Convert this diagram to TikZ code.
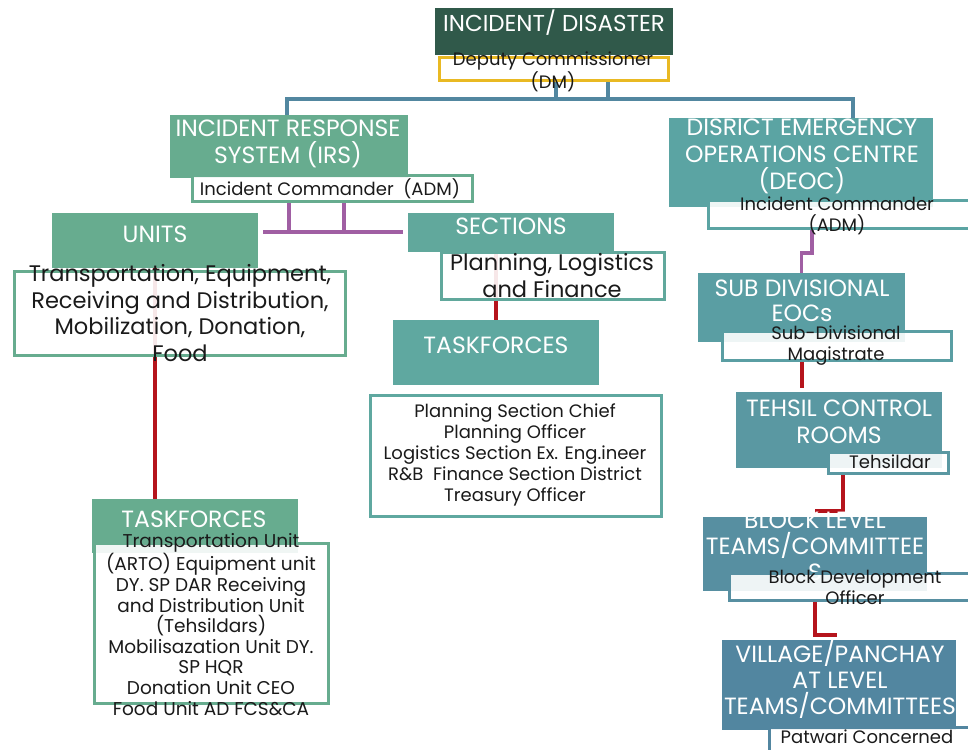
\documentclass[tikz,border=0pt]{standalone}
\usepackage{fontspec}
\setmainfont{Poppins}
\usetikzlibrary{calc}
\definecolor{cdark}{HTML}{30594A}
\definecolor{cgreen}{HTML}{67AC8F}
\definecolor{csect}{HTML}{61A89C}
\definecolor{ctfs}{HTML}{5FA8A0}
\definecolor{cdeoc}{HTML}{5BA4A3}
\definecolor{csub}{HTML}{5A9EA3}
\definecolor{cteh}{HTML}{5A98A2}
\definecolor{cblk}{HTML}{578FA1}
\definecolor{cvil}{HTML}{5286A0}
\definecolor{cblue}{HTML}{5287A0}
\definecolor{cpurple}{HTML}{A05FA3}
\definecolor{cred}{HTML}{B5141C}
\definecolor{cyellow}{HTML}{E9B923}
\definecolor{ctext}{HTML}{1A1A1A}
\begin{document}
\begin{tikzpicture}[x=1pt,y=-1pt,every node/.style={inner sep=0pt,outer sep=0pt}]
\tikzset{
 hdr/.style={rectangle,fill=#1,draw=none},
 wbox/.style={rectangle,draw=#1,line width=3pt,fill=white,fill opacity=0.9,text opacity=1},
 htxt/.style={text=white,font=\fontsize{23.5}{26}\selectfont,align=center},
 btxt/.style={text=ctext,font=\fontsize{18}{21}\selectfont,align=center},
 ltxt/.style={text=ctext,font=\fontsize{22.5}{26.7}\selectfont,align=center},
 blueln/.style={draw=cblue,line width=3.5pt},
 purpleln/.style={draw=cpurple,line width=3.5pt},
 redln/.style={draw=cred,line width=3.5pt},
}
\useasboundingbox (0,0) rectangle (968,749);
\fill[white] (0,0) rectangle (968,749);
% ---------- box shapes (placed first so connectors can use them) ----------
\path
 (554,31.5) node[hdr=cdark,minimum width=238,minimum height=47] (inc) {}
 (553.5,69.5) node[minimum width=229,minimum height=23] (dm) {}
 (289,146.5) node[minimum width=238,minimum height=63] (irs) {}
 (332,188) node[minimum width=280,minimum height=26] (irsic) {}
 (155,240.5) node[minimum width=206,minimum height=55] (units) {}
 (179.5,313) node[minimum width=331,minimum height=84] (unitsbox) {}
 (511,232.5) node[minimum width=206,minimum height=39] (sect) {}
 (552.5,275.5) node[minimum width=223,minimum height=47] (sectbox) {}
 (496,352.5) node[minimum width=206,minimum height=65] (tfs) {}
 (515.5,455.5) node[minimum width=291,minimum height=121] (tfsbox) {}
 (195,526) node[minimum width=206,minimum height=54] (tfu) {}
 (211,623) node[minimum width=234,minimum height=160] (tfubox) {}
 (801,162.5) node[minimum width=264,minimum height=89] (deoc) {}
 (841.5,214) node[minimum width=267,minimum height=28] (deocic) {}
 (801.5,307.5) node[minimum width=207,minimum height=69] (sub) {}
 (836.5,345.5) node[minimum width=229,minimum height=29] (subm) {}
 (839,430) node[minimum width=206,minimum height=76] (teh) {}
 (888,462.5) node[minimum width=120,minimum height=21] (tehd) {}
 (815,554) node[minimum width=224,minimum height=74] (blk) {}
 (852,586.5) node[minimum width=246,minimum height=27] (bdo) {}
 (839,685) node[minimum width=234,minimum height=90] (vil) {}
 (872,741) node[minimum width=206,minimum height=28] (pat) {};
% ---------- connectors ----------
\draw[blueln] ($(irs.north)+(-2,0)$) -- ++(0,-16) -| ($(deoc.north)+(52,0)$);
\draw[blueln] ($(dm.south)+(2.5,0)$) -- ++(0,18);
\draw[blueln] ($(dm.south)+(54.5,0)$) -- ++(0,18);
\draw[purpleln] ($(units.east)+(5,-8.5)$) -- ($(sect.west)+(-5,-0.5)$);
\draw[purpleln] ($(irsic.south)+(-43,0)$) -- ++(0,31);
\draw[purpleln] ($(irsic.south)+(12,0)$) -- ++(0,31);
\draw[purpleln] ($(deocic.south)+(-29.5,0)$) -- ++(0,25) -| (sub.north);
\draw[redln] (units.south) -- (units.south |- tfu.north);
\draw[redln] (tfs.north |- sect.south) -- (tfs.north);
\draw[redln] ($(subm.south)+(-34.5,0)$) -- ++(0,28);
\draw[redln] ($(tehd.south)+(-45,0)$) |- ($(blk.north)+(0,-6)$);
\draw[redln] ($(bdo.south)+(-37,0)$) |- ($(vil.north)+(-2,-5)$);
% ---------- top ----------
\fill[cdark] (inc.north west) rectangle (inc.south east);
\node[htxt,font=\fontsize{23}{26}\selectfont] (inct) at (554,23) {INCIDENT/ DISASTER};
\draw[cyellow,line width=3pt,fill=white] (dm.north west) rectangle (dm.south east);
\node[btxt] (dmt) at (553,72) {Deputy Commissioner\\(DM)};
% ---------- IRS ----------
\fill[cgreen] (irs.north west) rectangle (irs.south east);
\node[htxt,font=\fontsize{23.5}{27}\selectfont] (irst) at (288,143.5) {INCIDENT RESPONSE\\SYSTEM (IRS)};
\draw[wbox=cgreen] (irsic.north west) rectangle (irsic.south east);
\node[btxt] (irsict) at (330,189) {Incident Commander~~(ADM)};
% ---------- units ----------
\fill[cgreen] (units.north west) rectangle (units.south east);
\node[htxt] (unitst) at (155,234) {UNITS};
\draw[wbox=cgreen] (unitsbox.north west) rectangle (unitsbox.south east);
\node[ltxt] (unitsboxt) at (180,313) {Transportation, Equipment,\\Receiving and Distribution,\\Mobilization, Donation,\\Food};
% ---------- sections ----------
\fill[csect] (sect.north west) rectangle (sect.south east);
\node[htxt] (sectt) at (511,226) {SECTIONS};
\draw[wbox=csect] (sectbox.north west) rectangle (sectbox.south east);
\node[ltxt] (sectboxt) at (552,275.5) {Planning, Logistics\\and Finance};
\fill[ctfs] (tfs.north west) rectangle (tfs.south east);
\node[htxt] (tfst) at (496,345) {TASKFORCES};
\draw[wbox=ctfs] (tfsbox.north west) rectangle (tfsbox.south east);
\node[btxt] (tfsboxt) at (515,455) {Planning Section Chief\\Planning Officer\\Logistics Section Ex. Eng.ineer\\R\&B~~Finance Section District\\Treasury Officer};
% ---------- unit taskforces ----------
\fill[cgreen] (tfu.north west) rectangle (tfu.south east);
\node[htxt] (tfut) at (194,519) {TASKFORCES};
\draw[wbox=cgreen] (tfubox.north west) rectangle (tfubox.south east);
\node[btxt,font=\fontsize{18.5}{20.6}\selectfont] (tfuboxt) at (211,624.5) {Transportation Unit\\(ARTO) Equipment unit\\DY. SP DAR Receiving\\and Distribution Unit\\(Tehsildars)\\Mobilisazation Unit DY.\\SP HQR\\Donation Unit CEO\\Food Unit AD FCS\&CA};
% ---------- right column ----------
\fill[cdeoc] (deoc.north west) rectangle (deoc.south east);
\node[htxt,font=\fontsize{23.5}{27}\selectfont] (deoct) at (802,156) {DISRICT EMERGENCY\\OPERATIONS CENTRE\\(DEOC)};
\draw[wbox=cdeoc] (deocic.north west) rectangle (deocic.south east);
\node[btxt] (deocict) at (837,216) {Incident Commander\\(ADM)};
\fill[csub] (sub.north west) rectangle (sub.south east);
\node[htxt,font=\fontsize{23.5}{25}\selectfont] (subt) at (802,300.5) {SUB DIVISIONAL\\EOCs};
\draw[wbox=csub] (subm.north west) rectangle (subm.south east);
\node[btxt] (submt) at (836,345.5) {Sub-Divisional\\Magistrate};
\fill[cteh] (teh.north west) rectangle (teh.south east);
\node[htxt,font=\fontsize{23.5}{27}\selectfont] (teht) at (839,421.5) {TEHSIL CONTROL\\ROOMS};
\draw[wbox=cteh] (tehd.north west) rectangle (tehd.south east);
\node[btxt] (tehdt) at (890,462) {Tehsildar};
\fill[cblk] (blk.north west) rectangle (blk.south east);
\node[htxt] (blkt) at (815,546) {BLOCK LEVEL\\TEAMS/COMMITTEE\\S};
\draw[wbox=cblk] (bdo.north west) rectangle (bdo.south east);
\node[btxt] (bdot) at (855,587) {Block Development\\Officer};
\fill[cvil] (vil.north west) rectangle (vil.south east);
\node[htxt,font=\fontsize{23.5}{26}\selectfont] (vilt) at (840,679) {VILLAGE/PANCHAY\\AT LEVEL\\TEAMS/COMMITTEES};
\draw[wbox=cvil] (pat.north west) rectangle (pat.south east);
\node[btxt] (patt) at (867,737) {Patwari Concerned};
\end{tikzpicture}
\end{document}
